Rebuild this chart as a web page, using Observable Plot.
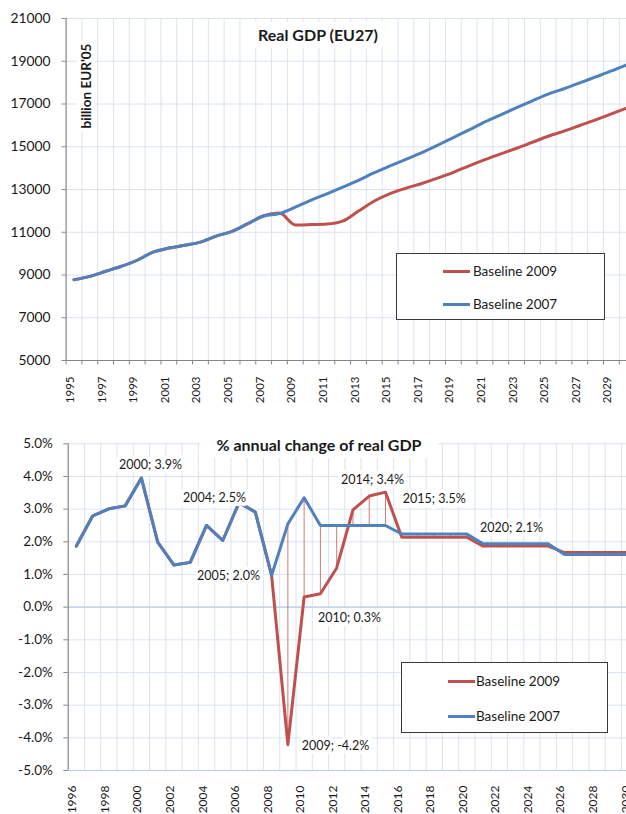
<!DOCTYPE html>
<html>
<head>
<meta charset="utf-8">
<script src="https://cdn.jsdelivr.net/npm/d3@7"></script>
<script src="https://cdn.jsdelivr.net/npm/@observablehq/plot@0.6"></script>
<style>
html, body { margin: 0; padding: 0; background: #fff; overflow: hidden; }
#wrap { position: relative; width: 626px; height: 814px; overflow: hidden; font-family: Lato, "Open Sans", sans-serif; color: #1a1a1a; background: #fff; }
.panel { position: absolute; left: 0; }
.title { position: absolute; background: #fff; font-weight: 700; font-size: 16px; text-align: center; white-space: nowrap; }
.ytitle { position: absolute; background: #fff; font-weight: 700; font-size: 13.5px; text-align: center; white-space: nowrap; transform: rotate(-90deg); }
.legend { position: absolute; background: #fff; border: 1px solid #3a3a3a; box-sizing: border-box; font-size: 13.5px; }
.legend .sw { position: absolute; height: 3px; }
.legend .lb { position: absolute; white-space: nowrap; line-height: 16px; }
</style>
</head>
<body>
<div id="wrap">
  <div id="top" class="panel" style="top:0"></div>
  <div id="bottom" class="panel" style="top:400px"></div>
  <div class="title" style="left:250px;top:22px;width:136px;height:26px;line-height:26px;">Real GDP (EU27)</div>
  <div class="ytitle" style="left:40px;top:77px;width:92px;height:18px;line-height:18px;">billion EUR'05</div>
  <div class="title" style="left:200px;top:432px;width:238px;height:26px;line-height:26px;">% annual change of real GDP</div>
  <div class="legend" id="leg1" style="left:396px;top:253px;width:209px;height:67px;"></div>
  <div class="legend" id="leg2" style="left:401px;top:662px;width:207px;height:71px;"></div>
</div>
<script>
// ---------- DATA ----------
const gdpYears = [1995,1996,1997,1998,1999,2000,2001,2002,2003,2004,2005,2006,2007,2008,2009,2010,2011,2012,2013,2014,2015,2016,2017,2018,2019,2020,2021,2022,2023,2024,2025,2026,2027,2028,2029,2030];
const gdpBaseline2009 = [8780,8937,9173,9408,9690,10070,10260,10390,10540,10820,11040,11400,11770,11895,11345,11360,11385,11520,11990,12460,12810,13060,13280,13530,13800,14110,14400,14670,14930,15210,15490,15730,15995,16260,16540,16823];
const gdpBaseline2007 = [8780,8937,9173,9408,9690,10070,10260,10390,10540,10820,11040,11400,11760,11870,12170,12500,12800,13110,13430,13785,14100,14410,14725,15070,15430,15790,16160,16495,16830,17150,17465,17715,17985,18265,18545,18845];
const gdpTicks = [5000,7000,9000,11000,13000,15000,17000,19000,21000];
const gdpTickYears = [1995,1997,1999,2001,2003,2005,2007,2009,2011,2013,2015,2017,2019,2021,2023,2025,2027,2029];

const growthYears = [1996,1997,1998,1999,2000,2001,2002,2003,2004,2005,2006,2007,2008,2009,2010,2011,2012,2013,2014,2015,2016,2017,2018,2019,2020,2021,2022,2023,2024,2025,2026,2027,2028,2029,2030];
const growthBaseline2009 = [1.87,2.79,3.01,3.10,3.95,1.99,1.29,1.37,2.50,2.04,3.20,2.91,0.97,-4.21,0.31,0.41,1.20,2.98,3.40,3.52,2.14,2.14,2.14,2.14,2.14,1.87,1.87,1.87,1.87,1.87,1.67,1.67,1.67,1.67,1.67];
const growthBaseline2007 = [1.87,2.79,3.01,3.10,3.95,1.99,1.29,1.37,2.50,2.04,3.20,2.91,0.97,2.55,3.35,2.50,2.50,2.50,2.50,2.50,2.24,2.24,2.24,2.24,2.24,1.94,1.94,1.94,1.94,1.94,1.61,1.61,1.61,1.61,1.61];
const growthTicks = [-5,-4,-3,-2,-1,0,1,2,3,4,5];
const growthTickYears = [1996,1998,2000,2002,2004,2006,2008,2010,2012,2014,2016,2018,2020,2022,2024,2026,2028,2030];
// data-label annotations (anchor in data units: year, percent)
const growthLabelText = ["2000; 3.9%","2004; 2.5%","2005; 2.0%","2009; -4.2%","2010; 0.3%","2014; 3.4%","2015; 3.5%","2020; 2.1%"];
const growthLabelX = [2000.56,2004.49,2005.35,2011.93,2012.79,2014.2,2018.0,2022.74];
const growthLabelY = [4.34,3.35,0.95,-4.25,-0.32,3.88,3.32,2.42];

const seriesNames = ["Baseline 2009","Baseline 2007"];

// ---------- STYLE ----------
const RED = "#C0504D", BLUE = "#4F81BD", GRID = "#DAE3F1", AXIS = "#868686", TEXT = "#1a1a1a";
const FONT = "Lato, 'Open Sans', sans-serif";
const svgStyle = {background: "transparent", maxWidth: "none", fontFamily: FONT, color: TEXT, overflow: "visible"};

// ---------- TOP CHART ----------
const gdpRed = gdpYears.map((year, i) => ({year, value: gdpBaseline2009[i]}));
const gdpBlue = gdpYears.map((year, i) => ({year, value: gdpBaseline2007[i]}));
const gdpBounds = gdpYears.map(y => y + 0.5);
const gdpLeft = gdpYears[0] - 0.5;

const topChart = Plot.plot({
  width: 640, height: 410,
  marginLeft: 65.6, marginRight: 5.4, marginTop: 18, marginBottom: 50,
  x: {domain: [gdpLeft, gdpYears[gdpYears.length - 1] + 0.5], axis: null},
  y: {domain: [gdpTicks[0], gdpTicks[gdpTicks.length - 1]], axis: null},
  style: svgStyle,
  marks: [
    Plot.ruleX(gdpBounds, {stroke: GRID, strokeWidth: 1}),
    Plot.ruleY(gdpTicks.slice(1), {stroke: GRID, strokeWidth: 1}),
    Plot.line(gdpRed, {x: "year", y: "value", stroke: RED, strokeWidth: 3, curve: "monotone-x"}),
    Plot.line(gdpBlue, {x: "year", y: "value", stroke: BLUE, strokeWidth: 3, curve: "monotone-x"}),
    Plot.ruleX([gdpLeft], {stroke: AXIS, strokeWidth: 1.2}),
    Plot.ruleY([gdpTicks[0]], {stroke: AXIS, strokeWidth: 1.2}),
    Plot.ruleY(gdpTicks, {x1: gdpLeft, x2: gdpLeft, insetLeft: -4, stroke: AXIS}),
    Plot.ruleX([gdpLeft, ...gdpBounds], {y1: gdpTicks[0], y2: gdpTicks[0], insetBottom: -4.5, stroke: AXIS}),
    Plot.text(gdpTicks, {x: gdpLeft, y: d => d, text: d => String(d), textAnchor: "end", dx: -15.6, fontSize: 13.8, fill: TEXT}),
    Plot.text(gdpTickYears, {x: d => d, frameAnchor: "bottom", text: d => String(d), rotate: -90, textAnchor: "end", dy: 16, fontSize: 11.5, fill: TEXT})
  ]
});
document.getElementById("top").appendChild(topChart);

// ---------- BOTTOM CHART ----------
const grRed = growthYears.map((year, i) => ({year, value: growthBaseline2009[i]}));
const grBlue = growthYears.map((year, i) => ({year, value: growthBaseline2007[i]}));
const hiLo = growthYears.map((year, i) => ({year, lo: Math.min(growthBaseline2009[i], growthBaseline2007[i]), hi: Math.max(growthBaseline2009[i], growthBaseline2007[i])})).filter(d => d.hi > d.lo);
const grBounds = growthYears.map(y => y + 0.5);
const grLeft = growthYears[0] - 0.5;
const grLabels = growthLabelText.map((text, i) => ({text, x: growthLabelX[i], y: growthLabelY[i]}));

const bottomChart = Plot.plot({
  width: 640, height: 414,
  marginLeft: 67.7, marginRight: 2.8, marginTop: 43.3, marginBottom: 44,
  x: {domain: [grLeft, growthYears[growthYears.length - 1] + 0.5], axis: null},
  y: {domain: [growthTicks[0], growthTicks[growthTicks.length - 1]], axis: null},
  style: svgStyle,
  marks: [
    Plot.ruleX(grBounds, {stroke: GRID, strokeWidth: 1}),
    Plot.ruleY(growthTicks.filter(t => t !== 0 && t !== growthTicks[0]), {stroke: GRID, strokeWidth: 1}),
    Plot.ruleY([0], {stroke: "#C8D5EC", strokeWidth: 1.6}),
    Plot.ruleY([growthTicks[0]], {stroke: "#B9CAE6", strokeWidth: 1.2}),
    Plot.ruleX([grLeft], {stroke: AXIS, strokeWidth: 1.2}),
    Plot.ruleY(growthTicks, {x1: grLeft, x2: grLeft, insetLeft: -4.4, stroke: AXIS}),
    Plot.ruleX(hiLo, {x: "year", y1: "lo", y2: "hi", stroke: RED, strokeWidth: 1, strokeOpacity: 0.75}),
    Plot.line(grRed, {x: "year", y: "value", stroke: RED, strokeWidth: 3}),
    Plot.line(grBlue, {x: "year", y: "value", stroke: BLUE, strokeWidth: 3}),
    Plot.text(growthTicks, {x: grLeft, y: d => d, text: d => d.toFixed(1) + "%", textAnchor: "end", dx: -15.4, fontSize: 13.5, fill: TEXT}),
    Plot.text(growthTickYears, {x: d => d, frameAnchor: "bottom", text: d => String(d), rotate: -90, textAnchor: "end", dy: 15, fontSize: 12, fill: TEXT}),
    Plot.text(grLabels, {x: "x", y: "y", text: "text", fontSize: 12.5, fill: TEXT, stroke: "white", strokeWidth: 8, strokeLinejoin: "round"})
  ]
});
document.getElementById("bottom").appendChild(bottomChart);

// ---------- LEGENDS ----------
function legend(id, rows, swLeft, swWidth, textLeft) {
  const box = document.getElementById(id);
  rows.forEach(r => {
    const sw = document.createElement("div");
    sw.className = "sw";
    sw.style.cssText = `left:${swLeft}px;width:${swWidth}px;top:${r.y - 1.5}px;background:${r.color}`;
    box.appendChild(sw);
    const lb = document.createElement("div");
    lb.className = "lb";
    lb.style.cssText = `left:${textLeft}px;top:${r.y - 8}px`;
    lb.textContent = r.name;
    box.appendChild(lb);
  });
}
legend("leg1", [{name: seriesNames[0], color: RED, y: 17}, {name: seriesNames[1], color: BLUE, y: 50}], 46, 27, 76);
legend("leg2", [{name: seriesNames[0], color: RED, y: 18}, {name: seriesNames[1], color: BLUE, y: 53}], 46, 27, 74);
</script>
</body>
</html>
